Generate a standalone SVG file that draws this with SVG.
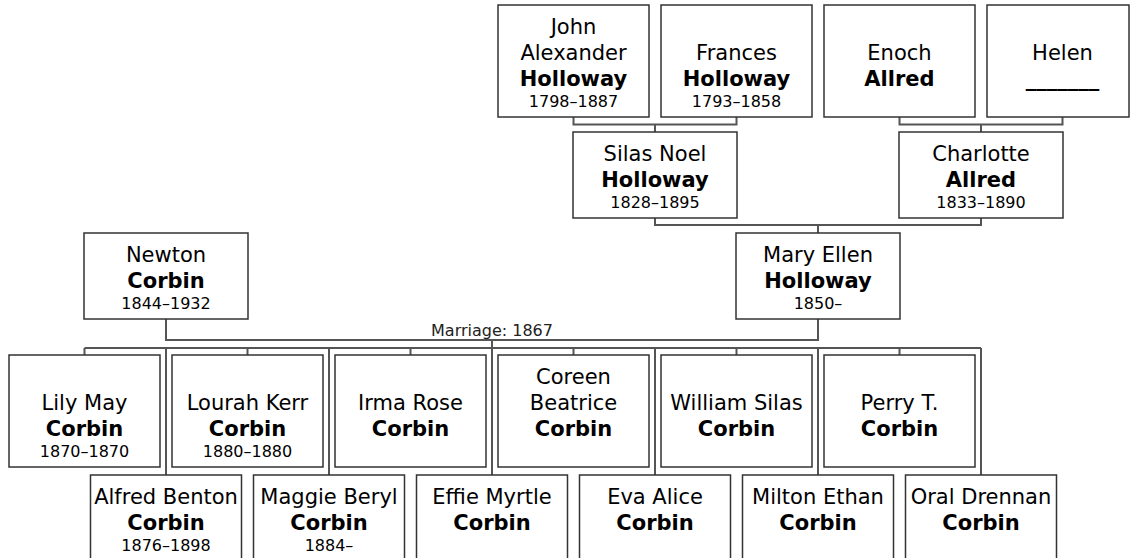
<svg xmlns="http://www.w3.org/2000/svg" width="1131" height="558" viewBox="0 0 1131 558">
<style>
.box{fill:#fff;stroke:#333;stroke-width:1.5}
.conn{fill:none;stroke:#555;stroke-width:2}
text{font-family:"DejaVu Sans","Liberation Sans",sans-serif;fill:#000;text-anchor:middle}
.n{font-size:21px}
.s{font-size:21px;font-weight:bold}
.d{font-size:16px}
.lbl{font-size:16px;fill:#222}
</style>
<rect width="1131" height="558" fill="#fff"/>
<g id="connectors">
<path class="conn" d="M573.5 117V124.5H736.5V117M655 124.5V132"/>
<path class="conn" d="M899.5 117V124.5H1062.5V117M981 124.5V132"/>
<path class="conn" d="M655 218V225H981V218M818 225V233"/>
<path class="conn" d="M166 319V340H818V319M492 340V348"/>
<path class="conn" d="M84.5 348H981M84.5 348V355M247.5 348V355M410.5 348V355M573.5 348V355M736.5 348V355M899.5 348V355M166 348V475M329 348V475M492 348V475M655 348V475M818 348V475M981 348V475"/>
<text class="lbl" x="492" y="336">Marriage: 1867</text>
</g>
<g id="john"><rect class="box" x="498" y="5" width="151" height="112"/><text class="n" x="573.5" y="34">John</text><text class="n" x="573.5" y="60">Alexander</text><text class="s" x="573.5" y="85.5">Holloway</text><text class="d" x="573.5" y="106.5">1798–1887</text></g>
<g id="frances"><rect class="box" x="661" y="5" width="151" height="112"/><text class="n" x="736.5" y="60">Frances</text><text class="s" x="736.5" y="85.5">Holloway</text><text class="d" x="736.5" y="106.5">1793–1858</text></g>
<g id="enoch"><rect class="box" x="824" y="5" width="151" height="112"/><text class="n" x="899.5" y="60">Enoch</text><text class="s" x="899.5" y="85.5">Allred</text></g>
<g id="helen"><rect class="box" x="987" y="5" width="142" height="112"/><text class="n" x="1062.5" y="60">Helen</text><text class="s" x="1062.5" y="85.5">_______</text></g>
<g id="silas"><rect class="box" x="573" y="132" width="164" height="86"/><text class="n" x="655" y="161">Silas Noel</text><text class="s" x="655" y="186.5">Holloway</text><text class="d" x="655" y="207.5">1828–1895</text></g>
<g id="charlotte"><rect class="box" x="899" y="132" width="164" height="86"/><text class="n" x="981" y="161">Charlotte</text><text class="s" x="981" y="186.5">Allred</text><text class="d" x="981" y="207.5">1833–1890</text></g>
<g id="newton"><rect class="box" x="84" y="233" width="164" height="86"/><text class="n" x="166" y="262">Newton</text><text class="s" x="166" y="287.5">Corbin</text><text class="d" x="166" y="308.5">1844–1932</text></g>
<g id="mary"><rect class="box" x="736" y="233" width="164" height="86"/><text class="n" x="818" y="262">Mary Ellen</text><text class="s" x="818" y="287.5">Holloway</text><text class="d" x="818" y="308.5">1850–</text></g>
<g id="lily"><rect class="box" x="9" y="355" width="151" height="112"/><text class="n" x="84.5" y="410">Lily May</text><text class="s" x="84.5" y="435.5">Corbin</text><text class="d" x="84.5" y="456.5">1870–1870</text></g>
<g id="lourah"><rect class="box" x="172" y="355" width="151" height="112"/><text class="n" x="247.5" y="410">Lourah Kerr</text><text class="s" x="247.5" y="435.5">Corbin</text><text class="d" x="247.5" y="456.5">1880–1880</text></g>
<g id="irma"><rect class="box" x="335" y="355" width="151" height="112"/><text class="n" x="410.5" y="410">Irma Rose</text><text class="s" x="410.5" y="435.5">Corbin</text></g>
<g id="coreen"><rect class="box" x="498" y="355" width="151" height="112"/><text class="n" x="573.5" y="384">Coreen</text><text class="n" x="573.5" y="410">Beatrice</text><text class="s" x="573.5" y="435.5">Corbin</text></g>
<g id="william"><rect class="box" x="661" y="355" width="151" height="112"/><text class="n" x="736.5" y="410">William Silas</text><text class="s" x="736.5" y="435.5">Corbin</text></g>
<g id="perry"><rect class="box" x="824" y="355" width="151" height="112"/><text class="n" x="899.5" y="410">Perry T.</text><text class="s" x="899.5" y="435.5">Corbin</text></g>
<g id="alfred"><rect class="box" x="90.5" y="475" width="151" height="86"/><text class="n" x="166" y="504">Alfred Benton</text><text class="s" x="166" y="529.5">Corbin</text><text class="d" x="166" y="550.5">1876–1898</text></g>
<g id="maggie"><rect class="box" x="253.5" y="475" width="151" height="86"/><text class="n" x="329" y="504">Maggie Beryl</text><text class="s" x="329" y="529.5">Corbin</text><text class="d" x="329" y="550.5">1884–</text></g>
<g id="effie"><rect class="box" x="416.5" y="475" width="151" height="86"/><text class="n" x="492" y="504">Effie Myrtle</text><text class="s" x="492" y="529.5">Corbin</text></g>
<g id="eva"><rect class="box" x="579.5" y="475" width="151" height="86"/><text class="n" x="655" y="504">Eva Alice</text><text class="s" x="655" y="529.5">Corbin</text></g>
<g id="milton"><rect class="box" x="742.5" y="475" width="151" height="86"/><text class="n" x="818" y="504">Milton Ethan</text><text class="s" x="818" y="529.5">Corbin</text></g>
<g id="oral"><rect class="box" x="905.5" y="475" width="151" height="86"/><text class="n" x="981" y="504">Oral Drennan</text><text class="s" x="981" y="529.5">Corbin</text></g>
</svg>
